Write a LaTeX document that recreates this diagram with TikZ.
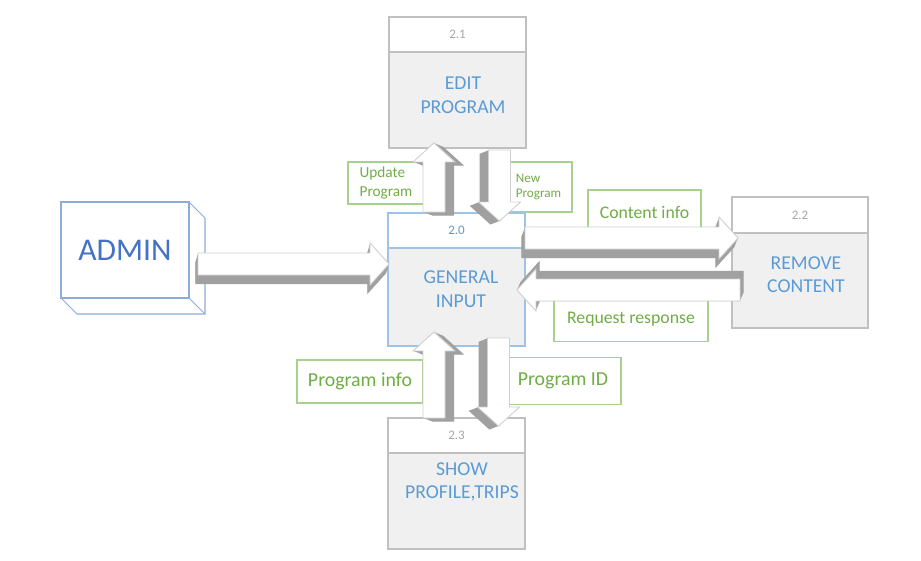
\documentclass[tikz,border=0pt]{standalone}
\usepackage{fontspec}
\setmainfont{Carlito}
\usepackage{xcolor}
\usetikzlibrary{positioning, calc}

\definecolor{procblue}{HTML}{5B9BD5}
\definecolor{numgray}{HTML}{A6A6A6}
\definecolor{boxline}{HTML}{C0C0C0}
\definecolor{boxfill}{HTML}{F0F0F0}
\definecolor{genline}{HTML}{9DC3E6}
\definecolor{adminline}{HTML}{8FAADC}
\definecolor{adminblue}{HTML}{4472C4}
\definecolor{lblgreen}{HTML}{70AD47}
\definecolor{lblline}{HTML}{A9D18E}
\definecolor{arrgray}{HTML}{A0A0A0}
\definecolor{arredge}{HTML}{D0D0D0}

\newcommand\pxu{0.02cm}
% 3d block arrow: start, end, depth vector
\newcommand\fatarrow[3]{%
  \path let \p1=#1, \p2=#2 in \pgfextra{%
    \pgfmathsetmacro\tmpang{atan2(\y2-\y1,\x2-\x1)}%
    \pgfmathsetmacro\tmplen{veclen(\x2-\x1,\y2-\y1)/0.56906}%
    \global\let\arrang\tmpang \global\let\arrlen\tmplen
    \xdef\arrx{\x1}\xdef\arry{\y1}};
  \foreach \stp in {0,0.1,...,1}
    \fill[arrside,shift={($\stp*#3$)},shift={(\arrx,\arry)},rotate=\arrang] \arrshape;
  \filldraw[arrface,shift={(\arrx,\arry)},rotate=\arrang] \arrshape;
}

\begin{document}
\begin{tikzpicture}[x=0.02cm, y=0.02cm,
  procbody/.style={draw=boxline, fill=boxfill, line width=0.6pt, minimum width={137*\pxu}, inner sep=0pt, outer sep=0pt},
  prochead/.style={draw=boxline, fill=white, line width=0.6pt, minimum width={137*\pxu}, minimum height={35*\pxu}, inner sep=0pt, outer sep=0pt, text=numgray, font=\fontsize{7.4}{9}\selectfont},
  proctext/.style={text=procblue, align=center, font=\fontsize{11.2}{13.4}\selectfont},
  lbl/.style={draw=lblline, fill=white, line width=0.6pt, text=lblgreen, inner sep=0pt},
  arrside/.style={fill=arrgray},
  arrface/.style={fill=white, draw=arredge, line width=0.5pt}]
  \def\aw{11}
  \def\ahw{21}
  \def\ahl{19}
  \def\arrshape{(0,-\aw) -- ({\arrlen-\ahl},-\aw) -- ({\arrlen-\ahl},-\ahw) -- (\arrlen,0) -- ({\arrlen-\ahl},\ahw) -- ({\arrlen-\ahl},\aw) -- (0,\aw) -- cycle}

  \useasboundingbox (0,0) rectangle (921,-561);

  % flow labels
  \node[lbl, minimum width={76*\pxu}, minimum height={42*\pxu}, align=left, font=\fontsize{8.7}{10.4}\selectfont] (updlbl) at (386,-183) {Update\\Program};
  \node[lbl, minimum width={67*\pxu}, minimum height={50*\pxu}, align=left, font=\fontsize{7.5}{8.5}\selectfont] (newlbl) at (538.5,-187) {New\\Program};
  \node[lbl, minimum width={113*\pxu}, minimum height={45*\pxu}, font=\fontsize{10.1}{12}\selectfont] (conlbl) at (644.5,-212.5) {Content info};
  \node[lbl, minimum width={154*\pxu}, minimum height={44*\pxu}, font=\fontsize{10.1}{12}\selectfont] (reqlbl) at (631,-319.5) {Request response};
  \node[lbl, minimum width={126*\pxu}, minimum height={43*\pxu}, font=\fontsize{11.3}{13}\selectfont] (pinlbl) at (360,-381.5) {Program info};
  \node[lbl, minimum width={116*\pxu}, minimum height={47*\pxu}, font=\fontsize{11.3}{13}\selectfont] (pidlbl) at (563,-381) {Program ID};

  % admin cube
  \node[draw=adminline, line width=0.6pt, minimum width={128*\pxu}, minimum height={96*\pxu}, inner sep=0pt, outer sep=0pt, text=adminblue, font=\fontsize{18}{20}\selectfont] (admin) at (125,-250) {ADMIN};
  \draw[adminline, line width=0.6pt] (admin.north east) -- ++(16,-16) -- ++(0,-96) -- ++(-128,0) -- (admin.south west);
  \draw[adminline, line width=0.6pt] (admin.south east) -- ++(16,-16);

  % processes
  \node[procbody, minimum height={96*\pxu}] (edit) at (457.5,-100) {};
  \node[prochead, above=0pt of edit] (edith) {2.1};
  \node[proctext] (editt) at (463,-95) {EDIT\\PROGRAM};

  \node[procbody, draw=genline, minimum height={98*\pxu}] (gen) at (456.5,-297) {};
  \node[prochead, draw=genline, text=procblue, above=0pt of gen] (genh) {2.0};
  \node[proctext] (gent) at (461,-289) {GENERAL\\INPUT};

  \node[procbody, minimum width={136*\pxu}, minimum height={95*\pxu}] (rem) at (800,-280.5) {};
  \node[prochead, minimum width={136*\pxu}, minimum height={36*\pxu}, above=0pt of rem] (remh) {2.2};
  \node[proctext] (remt) at (806,-274.5) {REMOVE\\CONTENT};

  \node[procbody, minimum height={96*\pxu}] (show) at (456.5,-501) {};
  \node[prochead, above=0pt of show] (showh) {2.3};
  \node[proctext] (showt) at (462,-482) {SHOW\\PROFILE,TRIPS};

  % flows
  \fatarrow{($(admin.east)+(9,-14)$)}{($(gen.west)+(1,33)$)}{(-3,-10)}
  \fatarrow{($(genh.north)+(-22.5,1)$)}{($(edit.south)+(-23.5,5)$)}{(10,-4)}
  \fatarrow{($(edit.south)+(42,-2)$)}{($(genh.north)+(43,-8)$)}{(-10,-4)}
  \fatarrow{($(genh.east)+(0,-7.5)$)}{($(remh.south west)+(6,-5)$)}{(-4,-10)}
  \fatarrow{($(rem.west)+(8,-9.5)$)}{($(gen.east)+(-8,7)$)}{(4,9)}
  \fatarrow{($(showh.north)+(-22.5,0)$)}{($(gen.south)+(-22.5,14)$)}{(10,-4)}
  \fatarrow{($(gen.south)+(42,8)$)}{($(showh.north)+(42,-8)$)}{(-10,-4)}
\end{tikzpicture}
\end{document}
